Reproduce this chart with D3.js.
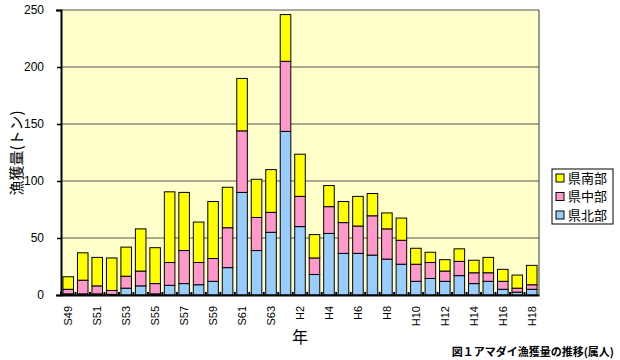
<!DOCTYPE html>
<html lang="ja">
<head>
  <meta charset="UTF-8">
  <title>アマダイ漁獲量の推移</title>
  <script src="https://d3js.org/d3.v7.min.js"></script>
  <style>
    body { margin: 0; padding: 0; background: #fff; font-family: "Noto Sans CJK JP", sans-serif; }
    .ytick text { font-family: "Liberation Sans", Arial, sans-serif; font-size: 12px; }
    .xtick text { font-family: "Liberation Sans", Arial, sans-serif; font-size: 11px; }
  </style>
</head>
<body>
  <svg id="chart"></svg>

  <script>
    // 年 (S49..S63, H1..H18)
    const years = ['S49','S50','S51','S52','S53','S54','S55','S56','S57','S58','S59','S60','S61','S62','S63',
                   'H1','H2','H3','H4','H5','H6','H7','H8','H9','H10','H11','H12','H13','H14','H15','H16','H17','H18'];
    const tickLabels = ['S49','S51','S53','S55','S57','S59','S61','S63','H2','H4','H6','H8','H10','H12','H14','H16','H18'];

    // 漁獲量 (トン)
    const north  = [1, 1, 1, 0.5, 6, 8, 1, 8.5, 10, 9, 12, 24, 90, 39, 55,
                    143.5, 60, 18, 54, 36.5, 36.5, 35, 31.5, 27, 12, 14.5, 12, 17, 10, 12, 5, 2.5, 5];
    const middle = [4, 12, 7, 3.5, 10.5, 13, 9, 20, 29, 19.5, 20, 35, 54, 29, 17.5,
                    61.5, 26.5, 14.5, 23.5, 27, 24, 34.5, 26.5, 21, 15, 14, 9, 12.5, 9.5, 7.5, 7, 3.5, 4];
    const south  = [11, 24, 25, 28.5, 25.5, 37, 31.5, 62, 51, 35.5, 50, 35.5, 46, 33.5, 37.5,
                    41, 37, 20.5, 18.5, 18.5, 26, 19.5, 14, 19.5, 14, 9, 10, 11, 11, 13.5, 10.5, 11.5, 17];

    const seriesNames = ['県北部', '県中部', '県南部'];
    const colors = ['#99ccff', '#ff99cc', '#ffff00'];

    const width = 620, height = 360;
    const margin = { top: 10, right: 81, bottom: 65, left: 61 };
    const innerW = width - margin.left - margin.right;
    const innerH = height - margin.top - margin.bottom;

    const svg = d3.select('#chart').attr('width', width).attr('height', height);
    const g = svg.append('g').attr('transform', `translate(${margin.left},${margin.top})`);

    const table = years.map((y, i) => ({ year: y, n: north[i], m: middle[i], s: south[i] }));
    const stack = d3.stack().keys(['n', 'm', 's'])(table);

    const x = d3.scaleBand().domain(years).range([0, innerW]).paddingInner(0.27).paddingOuter(0.135);
    const y = d3.scaleLinear().domain([0, 250]).range([innerH, 0]);

    // plot background
    g.append('rect').attr('width', innerW).attr('height', innerH).attr('fill', '#ffffcc');

    // grid
    g.append('g')
      .selectAll('line')
      .data(y.ticks(5).filter(d => d > 0))
      .enter().append('line')
      .attr('x1', 0).attr('x2', innerW)
      .attr('y1', d => y(d)).attr('y2', d => y(d))
      .attr('stroke', '#555').attr('stroke-width', 1);

    // border right
    g.append('line').attr('x1', innerW).attr('x2', innerW).attr('y1', 0).attr('y2', innerH)
      .attr('stroke', '#555').attr('stroke-width', 1.2);

    // bars
    g.selectAll('.layer')
      .data(stack)
      .enter().append('g')
      .attr('class', 'layer')
      .attr('fill', (d, i) => colors[i])
      .selectAll('rect')
      .data(d => d)
      .enter().append('rect')
      .attr('x', d => x(d.data.year))
      .attr('y', d => y(d[1]))
      .attr('width', x.bandwidth())
      .attr('height', d => Math.max(0, y(d[0]) - y(d[1])))
      .attr('stroke', '#000').attr('stroke-width', 1);

    // y axis
    const yAxis = g.append('g').attr('class', 'ytick')
      .call(d3.axisLeft(y).tickValues([0, 50, 100, 150, 200, 250]).tickSize(5).tickPadding(12));
    yAxis.select('.domain').attr('stroke', '#000').attr('stroke-width', 2);
    yAxis.selectAll('.tick line').attr('stroke', '#000').attr('stroke-width', 1.5).attr('x2', 0).attr('x1', -4);
    yAxis.selectAll('.tick text').attr('fill', '#000');

    // x axis
    const xAxis = g.append('g').attr('class', 'xtick')
      .attr('transform', `translate(0,${innerH})`)
      .call(d3.axisBottom(x).tickValues(tickLabels).tickSize(0).tickPadding(0));
    xAxis.select('.domain').attr('stroke', '#000').attr('stroke-width', 2);
    xAxis.selectAll('.tick text')
      .attr('fill', '#000')
      .attr('transform', 'rotate(-90)')
      .attr('text-anchor', 'end')
      .attr('x', -11)
      .attr('y', 0)
      .attr('dy', '0.35em');

    // small category ticks between bars
    g.append('g')
      .selectAll('line')
      .data(years)
      .enter().append('line')
      .attr('x1', d => x(d) - x.step() * x.paddingInner() / 2)
      .attr('x2', d => x(d) - x.step() * x.paddingInner() / 2)
      .attr('y1', innerH).attr('y2', innerH - 3)
      .attr('stroke', '#000').attr('stroke-width', 2);

    // axis titles
    svg.append('text')
      .attr('transform', 'translate(22,153) rotate(-90)')
      .attr('text-anchor', 'middle')
      .attr('font-size', 15)
      .text('漁獲量(トン)');

    svg.append('text')
      .attr('x', margin.left + innerW / 2).attr('y', 343)
      .attr('text-anchor', 'middle')
      .attr('font-size', 16)
      .text('年');

    svg.append('text')
      .attr('x', 614).attr('y', 356)
      .attr('text-anchor', 'end')
      .attr('font-size', 11).attr('font-weight', 'bold')
      .text('図１アマダイ漁獲量の推移(属人)');

    // legend
    const legend = svg.append('g').attr('transform', 'translate(552,169)');
    legend.append('rect').attr('width', 61).attr('height', 55)
      .attr('fill', '#fff').attr('stroke', '#000').attr('stroke-width', 1);
    [2, 1, 0].forEach((k, i) => {
      const row = legend.append('g').attr('transform', `translate(4,${9 + i * 18.5})`);
      row.append('rect').attr('x', 0).attr('y', -4).attr('width', 8).attr('height', 8)
        .attr('fill', colors[k]).attr('stroke', '#000');
      row.append('text').attr('x', 12).attr('y', 0).attr('dy', '0.36em')
        .attr('font-size', 13).text(seriesNames[k]);
    });
  </script>
</body>
</html>
